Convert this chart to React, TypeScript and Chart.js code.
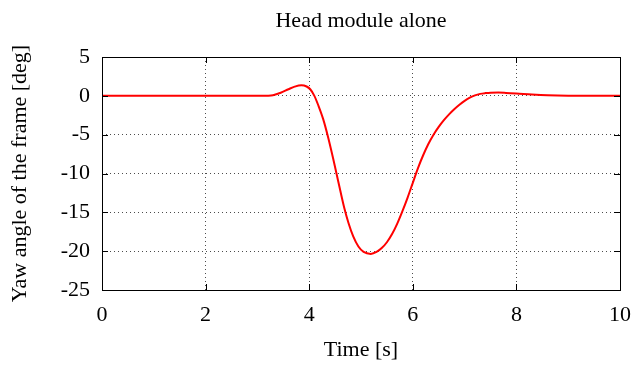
import React, { useEffect, useRef } from "react";
import { Chart, registerables } from "chart.js";

Chart.register(...registerables);

const timeS: number[] = [0, 1, 2, 3, 3.2, 3.3, 3.45, 3.6, 3.72, 3.85, 3.95, 4.02, 4.1, 4.18, 4.27, 4.36, 4.46, 4.53, 4.6, 4.68, 4.76, 4.85, 4.95, 5.05, 5.19, 5.3, 5.4, 5.5, 5.6, 5.7, 5.8, 5.9, 6.0, 6.1, 6.2, 6.3, 6.4, 6.5, 6.6, 6.7, 6.8, 6.9, 7.0, 7.1, 7.2, 7.3, 7.4, 7.5, 7.65, 7.8, 8.0, 8.3, 8.6, 9.0, 10];
const yawDeg: number[] = [0, 0, 0, 0, 0.02, 0.08, 0.4, 0.85, 1.18, 1.36, 1.2, 0.85, 0, -1.3, -3.0, -5.2, -8.0, -10.1, -12.2, -14.5, -16.4, -18.1, -19.4, -20.1, -20.35, -20.1, -19.6, -18.85, -17.8, -16.45, -14.85, -13.1, -11.2, -9.3, -7.65, -6.2, -5.0, -4.0, -3.13, -2.38, -1.72, -1.14, -0.64, -0.24, 0.06, 0.25, 0.35, 0.41, 0.42, 0.38, 0.3, 0.16, 0.06, 0.01, 0];

const xTicks: number[] = [0, 2, 4, 6, 8, 10];
const yTicks: number[] = [-25, -20, -15, -10, -5, 0, 5];
const titleText = "Head module alone";

const FONT = "'Liberation Serif', 'Times New Roman', serif";

const innerTicks = {
  id: "innerTicks",
  afterDraw(chart: any) {
    const { ctx, chartArea, scales } = chart;
    const len = 6;
    ctx.save();
    ctx.strokeStyle = "#000";
    ctx.lineWidth = 1;
    ctx.beginPath();
    for (const v of xTicks) {
      const x = Math.round(scales.x.getPixelForValue(v)) + 0.5;
      ctx.moveTo(x, chartArea.bottom);
      ctx.lineTo(x, chartArea.bottom - len);
      ctx.moveTo(x, chartArea.top);
      ctx.lineTo(x, chartArea.top + len);
    }
    for (const v of yTicks) {
      const y = Math.round(scales.y.getPixelForValue(v)) + 0.5;
      ctx.moveTo(chartArea.left, y);
      ctx.lineTo(chartArea.left + len, y);
      ctx.moveTo(chartArea.right, y);
      ctx.lineTo(chartArea.right - len, y);
    }
    ctx.stroke();
    ctx.strokeRect(chartArea.left + 0.5, chartArea.top + 0.5, chartArea.right - chartArea.left, chartArea.bottom - chartArea.top);
    ctx.fillStyle = "#000";
    ctx.font = "22px " + FONT;
    ctx.textAlign = "center";
    ctx.textBaseline = "middle";
    ctx.fillText(titleText, (chartArea.left + chartArea.right) / 2, 21);
    ctx.restore();
  },
};

export default function App() {
  const ref = useRef<HTMLCanvasElement | null>(null);
  useEffect(() => {
    if (!ref.current) return;
    const chart = new Chart(ref.current, {
      type: "line",
      data: {
        datasets: [
          {
            data: timeS.map((t, i) => ({ x: t, y: yawDeg[i] })),
            borderColor: "rgb(255,0,0)",
            borderWidth: 2,
            pointRadius: 0,
            cubicInterpolationMode: "monotone",
            fill: false,
          },
        ],
      },
      options: {
        animation: false,
        responsive: false,
        layout: { padding: { left: 0, right: 15, top: 57, bottom: 0 } },
        plugins: {
          legend: { display: false },
          tooltip: { enabled: false },
          title: { display: false },
        },
        scales: {
          x: {
            type: "linear",
            min: 0,
            max: 10,
            afterBuildTicks: (s: any) => { s.ticks = xTicks.map((v) => ({ value: v })); },
            afterFit: (s: any) => { s.height = 77; s.paddingLeft = 0; s.paddingRight = 0; },
            ticks: { color: "#000", font: { family: FONT, size: 22 }, padding: 12, maxRotation: 0 },
            grid: { color: "rgba(0,0,0,0.7)", tickLength: 0, drawTicks: false },
            border: { display: false, dash: [1, 3] },
            title: { display: true, text: "Time [s]", color: "#000", font: { family: FONT, size: 22 }, padding: 4 },
          },
          y: {
            type: "linear",
            min: -25,
            max: 5,
            afterBuildTicks: (s: any) => { s.ticks = yTicks.map((v) => ({ value: v })); },
            afterFit: (s: any) => { s.width = 102; s.paddingTop = 0; s.paddingBottom = 0; },
            ticks: { color: "#000", font: { family: FONT, size: 22 }, padding: 12 },
            grid: { color: "rgba(0,0,0,0.7)", tickLength: 0, drawTicks: false },
            border: { display: false, dash: [1, 3] },
            title: { display: true, text: "Yaw angle of the frame [deg]", color: "#000", font: { family: FONT, size: 22 }, padding: 7 },
          },
        },
      },
      plugins: [innerTicks],
    } as any);
    return () => chart.destroy();
  }, []);
  return (
    <div style={{ position: "fixed", left: 0, top: 0, width: 635, height: 367, background: "#fff" }}>
      <canvas ref={ref} width={635} height={367} />
    </div>
  );
}
